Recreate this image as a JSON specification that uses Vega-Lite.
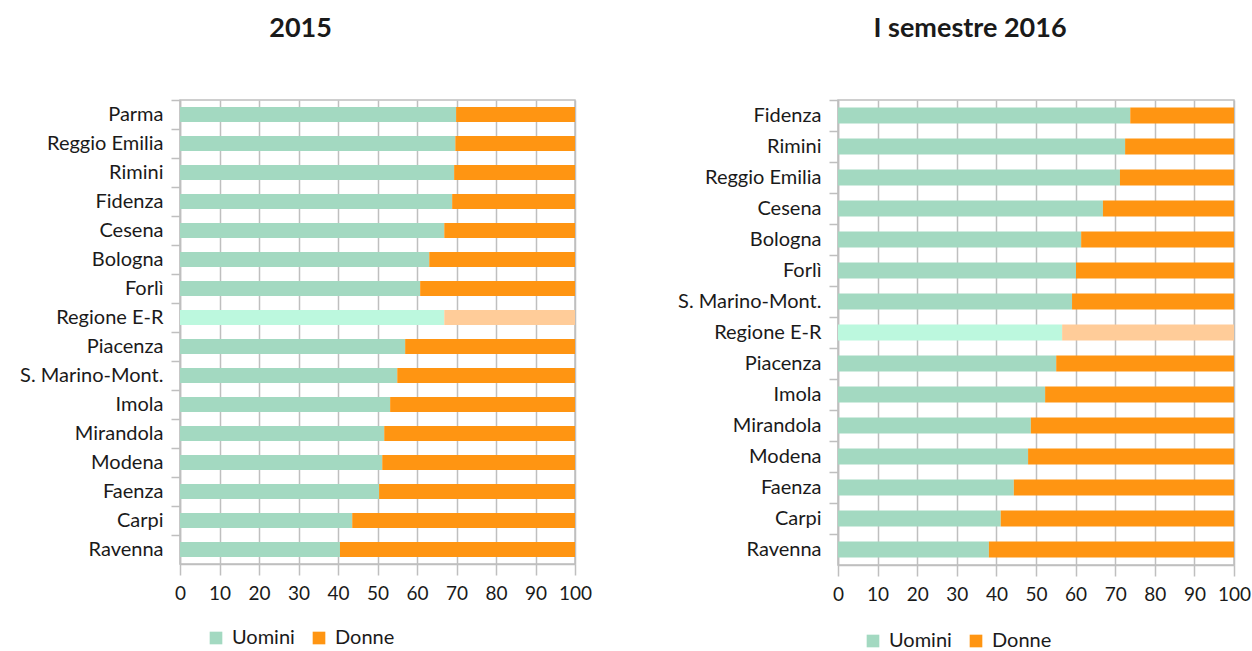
{
  "$schema": "https://vega.github.io/schema/vega-lite/v6.json",
  "background": "white",
  "padding": {"left": 18, "top": 14, "right": 2, "bottom": 2},
  "config": {
    "font": "Lato",
    "view": {"stroke": "#BFBFBF", "strokeWidth": 1.5},
    "axis": {"labelFont": "Lato", "labelFontSize": 20, "labelColor": "#1a1a1a", "title": null, "domainColor": "#BFBFBF", "tickColor": "#BFBFBF", "gridColor": "#BFBFBF", "domainWidth": 1.5, "tickWidth": 1.5, "gridWidth": 1.5, "labelOverlap": false, "labelFlush": false},
    "title": {"font": "Lato", "fontSize": 27, "fontWeight": "bold", "color": "#1a1a1a", "offset": 56, "frame": "bounds"},
    "legend": {"labelFont": "Lato", "labelFontSize": 20, "labelColor": "#1a1a1a", "symbolType": "square", "symbolSize": 160, "symbolStrokeWidth": 0, "padding": 0, "columnPadding": 14, "labelOffset": 6},
    "concat": {"spacing": 83}
  },
  "resolve": {"scale": {"color": "independent", "y": "independent", "x": "independent"}, "legend": {"color": "independent"}},
  "hconcat": [
    {
      "title": {"text": "2015", "dx": -5},
      "width": 395,
      "height": 464,
      "data": {"values": [
        {"ente": "Parma", "genere": "Uomini", "serie": "Uomini", "valore": 69.9},
        {"ente": "Parma", "genere": "Donne", "serie": "Donne", "valore": 30.1},
        {"ente": "Reggio Emilia", "genere": "Uomini", "serie": "Uomini", "valore": 69.7},
        {"ente": "Reggio Emilia", "genere": "Donne", "serie": "Donne", "valore": 30.3},
        {"ente": "Rimini", "genere": "Uomini", "serie": "Uomini", "valore": 69.4},
        {"ente": "Rimini", "genere": "Donne", "serie": "Donne", "valore": 30.6},
        {"ente": "Fidenza", "genere": "Uomini", "serie": "Uomini", "valore": 68.9},
        {"ente": "Fidenza", "genere": "Donne", "serie": "Donne", "valore": 31.1},
        {"ente": "Cesena", "genere": "Uomini", "serie": "Uomini", "valore": 66.9},
        {"ente": "Cesena", "genere": "Donne", "serie": "Donne", "valore": 33.1},
        {"ente": "Bologna", "genere": "Uomini", "serie": "Uomini", "valore": 63.1},
        {"ente": "Bologna", "genere": "Donne", "serie": "Donne", "valore": 36.9},
        {"ente": "Forlì", "genere": "Uomini", "serie": "Uomini", "valore": 60.8},
        {"ente": "Forlì", "genere": "Donne", "serie": "Donne", "valore": 39.2},
        {"ente": "Regione E-R", "genere": "Uomini", "serie": "Uomini R", "valore": 66.9},
        {"ente": "Regione E-R", "genere": "Donne", "serie": "Donne R", "valore": 33.1},
        {"ente": "Piacenza", "genere": "Uomini", "serie": "Uomini", "valore": 57.0},
        {"ente": "Piacenza", "genere": "Donne", "serie": "Donne", "valore": 43.0},
        {"ente": "S. Marino-Mont.", "genere": "Uomini", "serie": "Uomini", "valore": 55.0},
        {"ente": "S. Marino-Mont.", "genere": "Donne", "serie": "Donne", "valore": 45.0},
        {"ente": "Imola", "genere": "Uomini", "serie": "Uomini", "valore": 53.2},
        {"ente": "Imola", "genere": "Donne", "serie": "Donne", "valore": 46.8},
        {"ente": "Mirandola", "genere": "Uomini", "serie": "Uomini", "valore": 51.7},
        {"ente": "Mirandola", "genere": "Donne", "serie": "Donne", "valore": 48.3},
        {"ente": "Modena", "genere": "Uomini", "serie": "Uomini", "valore": 51.2},
        {"ente": "Modena", "genere": "Donne", "serie": "Donne", "valore": 48.8},
        {"ente": "Faenza", "genere": "Uomini", "serie": "Uomini", "valore": 50.4},
        {"ente": "Faenza", "genere": "Donne", "serie": "Donne", "valore": 49.6},
        {"ente": "Carpi", "genere": "Uomini", "serie": "Uomini", "valore": 43.6},
        {"ente": "Carpi", "genere": "Donne", "serie": "Donne", "valore": 56.4},
        {"ente": "Ravenna", "genere": "Uomini", "serie": "Uomini", "valore": 40.5},
        {"ente": "Ravenna", "genere": "Donne", "serie": "Donne", "valore": 59.5}
      ]},
      "mark": {"type": "bar"},
      "encoding": {
        "y": {"field": "ente", "type": "nominal",
          "sort": ["Parma", "Reggio Emilia", "Rimini", "Fidenza", "Cesena", "Bologna", "Forlì", "Regione E-R", "Piacenza", "S. Marino-Mont.", "Imola", "Mirandola", "Modena", "Faenza", "Carpi", "Ravenna"],
          "scale": {"paddingInner": 0.48, "paddingOuter": 0.24},
          "axis": {"grid": false, "tickSize": 9, "labelPadding": 8, "bandPosition": -0.46, "minExtent": 160, "maxExtent": 160}},
        "x": {"field": "valore", "type": "quantitative", "stack": "zero",
          "scale": {"domain": [0, 100], "nice": false},
          "axis": {"values": [0, 10, 20, 30, 40, 50, 60, 70, 80, 90, 100], "tickSize": 11, "labelPadding": 9, "grid": true, "labelFontSize": 19}},
        "color": {"field": "serie", "type": "nominal",
          "scale": {"domain": ["Uomini", "Donne", "Uomini R", "Donne R"], "range": ["#A3D9C1", "#FF9512", "#BCF8DE", "#FFCC99"]},
          "legend": {"values": ["Uomini", "Donne"], "title": null, "orient": "none", "direction": "horizontal", "legendX": 26, "legendY": 528}},
        "order": {"field": "genere", "sort": "descending"}
      }
    },
    {
      "title": {"text": "I semestre 2016", "dx": 6},
      "width": 396,
      "height": 465,
      "data": {"values": [
        {"ente": "Fidenza", "genere": "Uomini", "serie": "Uomini", "valore": 73.8},
        {"ente": "Fidenza", "genere": "Donne", "serie": "Donne", "valore": 26.2},
        {"ente": "Rimini", "genere": "Uomini", "serie": "Uomini", "valore": 72.5},
        {"ente": "Rimini", "genere": "Donne", "serie": "Donne", "valore": 27.5},
        {"ente": "Reggio Emilia", "genere": "Uomini", "serie": "Uomini", "valore": 71.2},
        {"ente": "Reggio Emilia", "genere": "Donne", "serie": "Donne", "valore": 28.8},
        {"ente": "Cesena", "genere": "Uomini", "serie": "Uomini", "valore": 66.9},
        {"ente": "Cesena", "genere": "Donne", "serie": "Donne", "valore": 33.1},
        {"ente": "Bologna", "genere": "Uomini", "serie": "Uomini", "valore": 61.4},
        {"ente": "Bologna", "genere": "Donne", "serie": "Donne", "valore": 38.6},
        {"ente": "Forlì", "genere": "Uomini", "serie": "Uomini", "valore": 60.1},
        {"ente": "Forlì", "genere": "Donne", "serie": "Donne", "valore": 39.9},
        {"ente": "S. Marino-Mont.", "genere": "Uomini", "serie": "Uomini", "valore": 59.1},
        {"ente": "S. Marino-Mont.", "genere": "Donne", "serie": "Donne", "valore": 40.9},
        {"ente": "Regione E-R", "genere": "Uomini", "serie": "Uomini R", "valore": 56.6},
        {"ente": "Regione E-R", "genere": "Donne", "serie": "Donne R", "valore": 43.4},
        {"ente": "Piacenza", "genere": "Uomini", "serie": "Uomini", "valore": 55.1},
        {"ente": "Piacenza", "genere": "Donne", "serie": "Donne", "valore": 44.9},
        {"ente": "Imola", "genere": "Uomini", "serie": "Uomini", "valore": 52.3},
        {"ente": "Imola", "genere": "Donne", "serie": "Donne", "valore": 47.7},
        {"ente": "Mirandola", "genere": "Uomini", "serie": "Uomini", "valore": 48.7},
        {"ente": "Mirandola", "genere": "Donne", "serie": "Donne", "valore": 51.3},
        {"ente": "Modena", "genere": "Uomini", "serie": "Uomini", "valore": 48.0},
        {"ente": "Modena", "genere": "Donne", "serie": "Donne", "valore": 52.0},
        {"ente": "Faenza", "genere": "Uomini", "serie": "Uomini", "valore": 44.4},
        {"ente": "Faenza", "genere": "Donne", "serie": "Donne", "valore": 55.6},
        {"ente": "Carpi", "genere": "Uomini", "serie": "Uomini", "valore": 41.1},
        {"ente": "Carpi", "genere": "Donne", "serie": "Donne", "valore": 58.9},
        {"ente": "Ravenna", "genere": "Uomini", "serie": "Uomini", "valore": 38.1},
        {"ente": "Ravenna", "genere": "Donne", "serie": "Donne", "valore": 61.9}
      ]},
      "mark": {"type": "bar"},
      "encoding": {
        "y": {"field": "ente", "type": "nominal",
          "sort": ["Fidenza", "Rimini", "Reggio Emilia", "Cesena", "Bologna", "Forlì", "S. Marino-Mont.", "Regione E-R", "Piacenza", "Imola", "Mirandola", "Modena", "Faenza", "Carpi", "Ravenna"],
          "scale": {"paddingInner": 0.48, "paddingOuter": 0.24},
          "axis": {"grid": false, "tickSize": 9, "labelPadding": 8, "bandPosition": -0.46, "minExtent": 160, "maxExtent": 160}},
        "x": {"field": "valore", "type": "quantitative", "stack": "zero",
          "scale": {"domain": [0, 100], "nice": false},
          "axis": {"values": [0, 10, 20, 30, 40, 50, 60, 70, 80, 90, 100], "tickSize": 11, "labelPadding": 9, "grid": true, "labelFontSize": 19}},
        "color": {"field": "serie", "type": "nominal",
          "scale": {"domain": ["Uomini", "Donne", "Uomini R", "Donne R"], "range": ["#A3D9C1", "#FF9512", "#BCF8DE", "#FFCC99"]},
          "legend": {"values": ["Uomini", "Donne"], "title": null, "orient": "none", "direction": "horizontal", "legendX": 25, "legendY": 531}},
        "order": {"field": "genere", "sort": "descending"}
      }
    }
  ]
}
